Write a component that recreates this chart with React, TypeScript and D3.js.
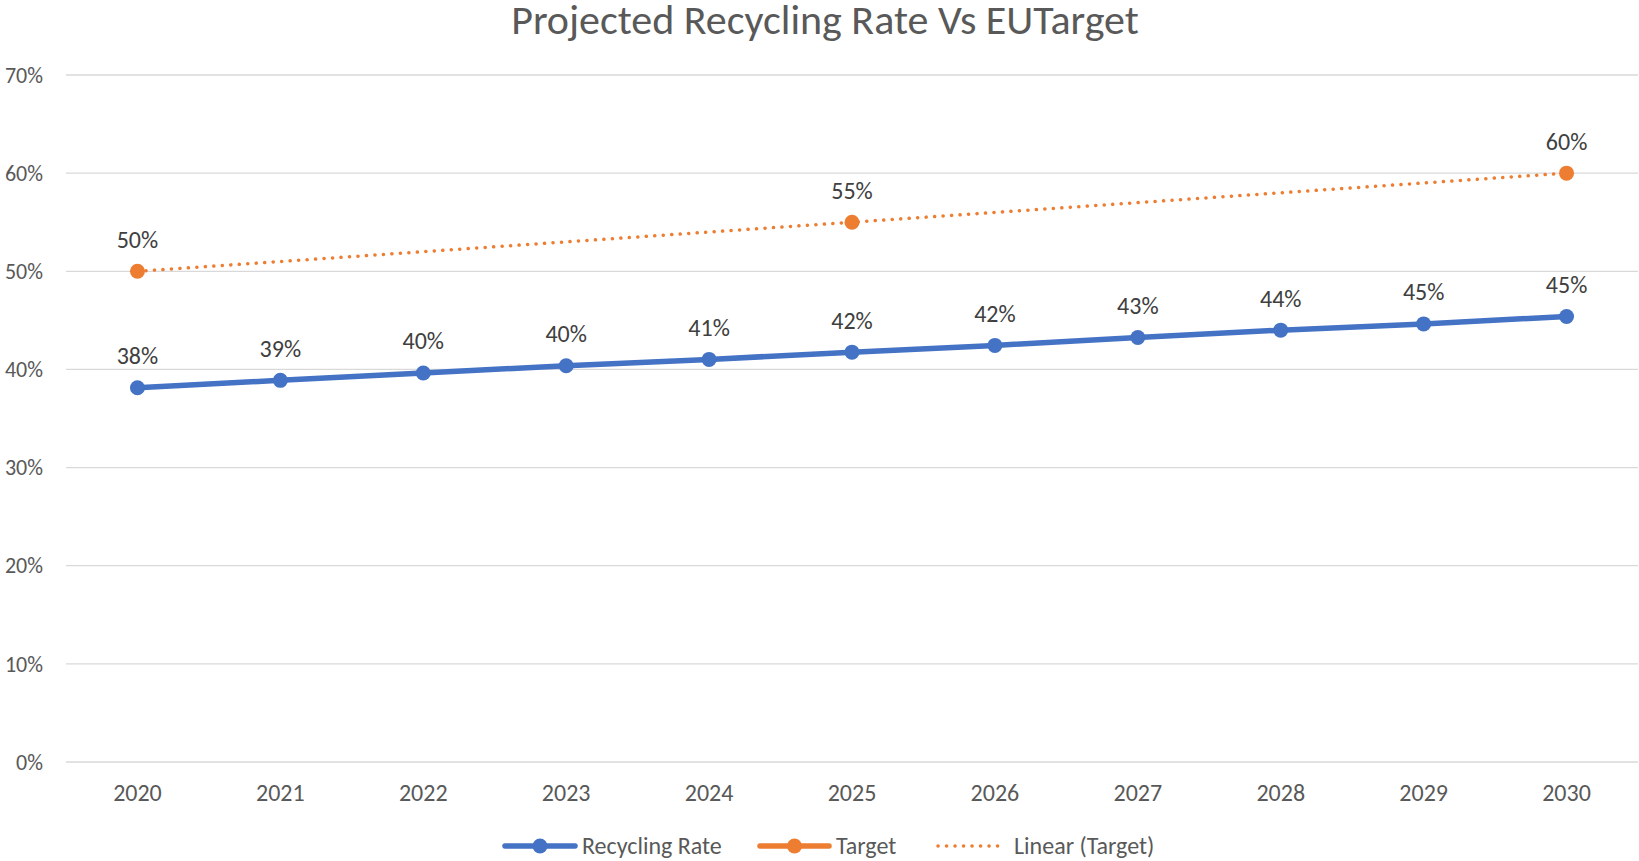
import React, { useEffect, useRef } from "react";
import * as d3 from "d3";

const years = ["2020", "2021", "2022", "2023", "2024", "2025", "2026", "2027", "2028", "2029", "2030"];
const recyclingRate = [0.3814, 0.3889, 0.3963, 0.4038, 0.4102, 0.4176, 0.4245, 0.4326, 0.44, 0.4464, 0.4539];
const target: (number | null)[] = [0.5, null, null, null, null, 0.55, null, null, null, null, 0.6];
const yTicks = [0, 0.1, 0.2, 0.3, 0.4, 0.5, 0.6, 0.7];

const WIDTH = 1639;
const HEIGHT = 861;
const FONT = "Carlito, Calibri, 'Open Sans', sans-serif";

const App: React.FC = () => {
  const chartRef = useRef<SVGSVGElement>(null);

  useEffect(() => {
    document.body.style.margin = "0";
    const svg = d3.select(chartRef.current);
    svg.selectAll("*").remove();

    const margin = { top: 75, right: 1, bottom: 99, left: 66 };
    const x = d3
      .scaleBand()
      .domain(years)
      .range([margin.left, WIDTH - margin.right]);
    const y = d3
      .scaleLinear()
      .domain([0, 0.7])
      .range([HEIGHT - margin.bottom, margin.top]);
    const cx = (i: number) => x(years[i])! + x.bandwidth() / 2;

    svg.append("rect").attr("width", WIDTH).attr("height", HEIGHT).attr("fill", "#fff");

    // title
    svg
      .append("text")
      .attr("x", 825)
      .attr("y", 34)
      .attr("text-anchor", "middle")
      .style("font-family", FONT)
      .style("font-size", "42px")
      .attr("fill", "#595959")
      .text("Projected Recycling Rate Vs EUTarget");

    // gridlines + y labels
    const grid = svg.append("g");
    yTicks.forEach((t) => {
      grid
        .append("line")
        .attr("x1", margin.left)
        .attr("x2", WIDTH - margin.right)
        .attr("y1", y(t))
        .attr("y2", y(t))
        .attr("stroke", "#d9d9d9")
        .attr("stroke-width", 1.3);
      grid
        .append("text")
        .attr("x", 43)
        .attr("y", y(t))
        .attr("dy", "0.35em")
        .attr("text-anchor", "end")
        .style("font-family", FONT)
        .style("font-size", "22px")
        .attr("fill", "#595959")
        .text(d3.format(".0%")(t));
    });

    // x labels
    years.forEach((yr, i) => {
      svg
        .append("text")
        .attr("x", cx(i))
        .attr("y", 793)
        .attr("dy", "0.35em")
        .attr("text-anchor", "middle")
        .style("font-family", FONT)
        .style("font-size", "24px")
        .attr("fill", "#595959")
        .text(yr);
    });

    // linear trend of target
    const tPts = target
      .map((v, i) => ({ i, v }))
      .filter((d) => d.v !== null) as { i: number; v: number }[];
    const n = tPts.length;
    const mx = d3.mean(tPts, (d) => d.i)!;
    const my = d3.mean(tPts, (d) => d.v)!;
    const slope =
      d3.sum(tPts, (d) => (d.i - mx) * (d.v - my)) / d3.sum(tPts, (d) => (d.i - mx) ** 2);
    const icpt = my - slope * mx;
    const i0 = tPts[0].i;
    const i1 = tPts[n - 1].i;
    svg
      .append("line")
      .attr("x1", cx(i0))
      .attr("y1", y(icpt + slope * i0))
      .attr("x2", cx(i1))
      .attr("y2", y(icpt + slope * i1))
      .attr("stroke", "#ed7d31")
      .attr("stroke-width", 3.5)
      .attr("stroke-linecap", "round")
      .attr("stroke-dasharray", "0.1 8.4");

    // recycling rate line
    const line = d3
      .line<number>()
      .x((_, i) => cx(i))
      .y((d) => y(d));
    svg
      .append("path")
      .attr("d", line(recyclingRate)!)
      .attr("fill", "none")
      .attr("stroke", "#4472c4")
      .attr("stroke-width", 5.5)
      .attr("stroke-linecap", "round");

    svg
      .selectAll(".rr")
      .data(recyclingRate)
      .enter()
      .append("circle")
      .attr("cx", (_, i) => cx(i))
      .attr("cy", (d) => y(d))
      .attr("r", 7.5)
      .attr("fill", "#4472c4");

    tPts.forEach((d) => {
      svg
        .append("circle")
        .attr("cx", cx(d.i))
        .attr("cy", y(d.v))
        .attr("r", 7.5)
        .attr("fill", "#ed7d31");
    });

    // data labels
    const labels = [
      ...recyclingRate.map((v, i) => ({ i, v })),
      ...tPts,
    ];
    labels.forEach((d) => {
      svg
        .append("text")
        .attr("x", cx(d.i))
        .attr("y", y(d.v) - 32)
        .attr("dy", "0.35em")
        .attr("text-anchor", "middle")
        .style("font-family", FONT)
        .style("font-size", "24px")
        .attr("fill", "#404040")
        .text(d3.format(".0%")(d.v));
    });

    // legend
    const ly = 846;
    const leg = svg.append("g");
    const items = [
      { label: "Recycling Rate", color: "#4472c4", x0: 505, x1: 575, tx: 582, kind: "marker" },
      { label: "Target", color: "#ed7d31", x0: 760, x1: 829, tx: 836, kind: "marker" },
      { label: "Linear (Target)", color: "#ed7d31", x0: 938, x1: 1001, tx: 1014, kind: "dots" },
    ];
    items.forEach((it) => {
      if (it.kind === "marker") {
        leg
          .append("line")
          .attr("x1", it.x0)
          .attr("x2", it.x1)
          .attr("y1", ly)
          .attr("y2", ly)
          .attr("stroke", it.color)
          .attr("stroke-width", 5.5)
          .attr("stroke-linecap", "round");
        leg
          .append("circle")
          .attr("cx", (it.x0 + it.x1) / 2)
          .attr("cy", ly)
          .attr("r", 7.5)
          .attr("fill", it.color);
      } else {
        leg
          .append("line")
          .attr("x1", it.x0)
          .attr("x2", it.x1)
          .attr("y1", ly)
          .attr("y2", ly)
          .attr("stroke", it.color)
          .attr("stroke-width", 3.5)
          .attr("stroke-linecap", "round")
          .attr("stroke-dasharray", "0.1 8.4");
      }
      leg
        .append("text")
        .attr("x", it.tx)
        .attr("y", ly)
        .attr("dy", "0.35em")
        .style("font-family", FONT)
        .style("font-size", "24px")
        .attr("fill", "#595959")
        .text(it.label);
    });
  }, []);

  return <svg ref={chartRef} width={WIDTH} height={HEIGHT} style={{ display: "block" }} />;
};

export default App;
